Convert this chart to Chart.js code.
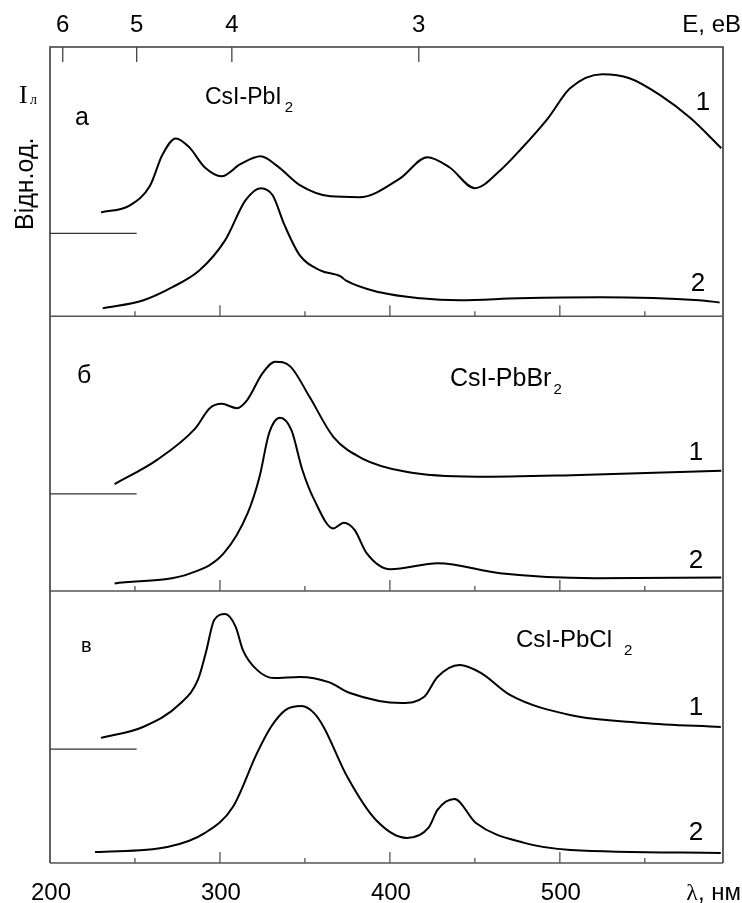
<!DOCTYPE html>
<html>
<head>
<meta charset="utf-8">
<script src="https://cdn.jsdelivr.net/npm/chart.js@4.4.1/dist/chart.umd.min.js"></script>
<style>
  html, body { margin: 0; padding: 0; background: #fff; }
</style>
</head>
<body>
<canvas id="spectra" width="742" height="903"></canvas>
<script>
// wavelength, nm  /  intensity, rel. units (0..100 within a panel)

// а: CsI-PbI2
const lamA1 = [230, 247, 259, 266, 274, 282, 291, 301, 312, 324, 334, 347, 365, 382, 406, 422, 435, 450, 465, 477, 493, 506, 525, 541, 559, 577, 595];
const intA1 = [38.2, 40.8, 48.2, 59.2, 65.4, 62.1, 54.8, 51.5, 55.9, 58.8, 55.1, 48.2, 44.1, 43.8, 50.7, 58.5, 54.8, 47.1, 53.7, 61.4, 72.8, 83.8, 89.0, 87.5, 81.3, 72.8, 61.8];
const lamA2 = [231, 255, 272, 288, 303, 315, 324, 331, 338, 347, 359, 371, 374, 394, 418, 441, 476, 524, 582, 594];
const intA2 = [2.9, 5.9, 10.7, 16.9, 27.9, 42.6, 47.1, 44.5, 33.5, 22.4, 16.9, 14.7, 13.2, 8.8, 6.6, 5.9, 6.6, 7.0, 5.9, 5.1];

// б: CsI-PbBr2
const lamB1 = [238, 263, 285.5, 294, 301, 310, 316, 325, 332.5, 341.5, 352.7, 366.7, 383.5, 408.8, 450.8, 506.8, 595];
const intB1 = [39.3, 48.2, 59.8, 67.2, 68.8, 67.2, 70.2, 80.0, 84.3, 82.5, 71.4, 56.7, 48.8, 43.9, 42.0, 42.6, 44.2];
const lamB2 = [238, 282.6, 302.3, 316.3, 323.3, 328.9, 335.3, 342, 348.5, 355.5, 366.7, 372.9, 379.3, 386.3, 400.3, 428.3, 464.8, 520.8, 595];
const intB2 = [2.8, 6.5, 13.9, 28.6, 42.0, 58.0, 63.7, 59.2, 44.5, 33.5, 23.0, 25.1, 22.4, 13.9, 8.0, 10.2, 6.5, 4.7, 5.0];

// в: CsI-PbCl2
const lamC1 = [230, 254.7, 277, 287, 291.8, 296.6, 303, 309.2, 313.5, 321.8, 331.8, 347, 364, 376.5, 407, 420, 428, 441, 453.5, 470.6, 506, 549, 594.7];
const intC1 = [46.0, 50.0, 58.8, 67.3, 77.6, 89.3, 91.5, 86.9, 78.3, 71.0, 68.0, 68.4, 66.5, 62.5, 58.8, 61.0, 68.4, 72.8, 69.9, 61.8, 54.4, 51.5, 50.0];
const lamC2 = [226.5, 269, 291, 307.6, 321.8, 330, 338.7, 348, 355.4, 361, 375, 391.8, 410, 423, 428, 438, 450.6, 479, 506.5, 594.7];
const intC2 = [4.0, 5.9, 11.0, 20.6, 40.4, 50.0, 56.3, 57.7, 55.1, 50.0, 31.6, 15.8, 9.2, 13.2, 19.5, 23.5, 14.7, 7.4, 4.8, 3.7];

// zero level of curve 1 in each panel
const zeroLevels = [30.5, 35.7, 41.9];

// axis ticks
const lamTicks = [200, 300, 400, 500];
const lamMinor = [250, 300, 350, 400, 450, 500, 550];
const eTickLabels = ['6', '5', '4', '3'];
const eTickLam = [207.5, 251, 307, 417];

const panelBase = [201, 100, 0]; // bottom of panels а, б, в on the shared y scale

function curve(lam, val, base) {
    return {
        data: lam.map((x, i) => ({ x: x, y: val[i] + base })),
        borderColor: '#000',
        borderWidth: 2,
        pointRadius: 0,
        cubicInterpolationMode: 'monotone',
        fill: false
    };
}

function zeroMark(level, base) {
    return {
        data: [{ x: 200, y: level + base }, { x: 251, y: level + base }],
        borderColor: '#333',
        borderWidth: 1.2,
        pointRadius: 0,
        fill: false
    };
}

const datasets = [
    curve(lamA1, intA1, panelBase[0]),
    curve(lamA2, intA2, panelBase[0]),
    curve(lamB1, intB1, panelBase[1]),
    curve(lamB2, intB2, panelBase[1]),
    curve(lamC1, intC1, panelBase[2]),
    curve(lamC2, intC2, panelBase[2]),
    zeroMark(zeroLevels[0], panelBase[0]),
    zeroMark(zeroLevels[1], panelBase[1]),
    zeroMark(zeroLevels[2], panelBase[2])
];

function txt(ctx, s, x, y, font, align) {
    ctx.font = font;
    ctx.textAlign = align || 'left';
    ctx.textBaseline = 'alphabetic';
    ctx.fillText(s, x, y);
    return ctx.measureText(s).width;
}

// formula with a lowered index, e.g. CsI-PbI + 2
function formula(ctx, main, sub, x, y, size, gap) {
    const sans = '"Liberation Sans", Arial, sans-serif';
    const w = txt(ctx, main, x, y, size + 'px ' + sans);
    txt(ctx, sub, x + w + gap, y + 8, '15px ' + sans);
}

const framePlugin = {
    id: 'frame',
    afterDraw(chart) {
        const ctx = chart.ctx;
        const xs = chart.scales.x, ys = chart.scales.y;
        const L = xs.left, R = xs.right, T = ys.top;
        ctx.save();
        ctx.strokeStyle = '#3a3a3a';
        ctx.lineWidth = 1.6;

        // outer frame
        ctx.beginPath();
        ctx.moveTo(L, ys.bottom); ctx.lineTo(L, T); ctx.lineTo(R, T); ctx.lineTo(R, ys.bottom);
        ctx.stroke();

        // panel bottoms with wavelength ticks
        ctx.strokeStyle = '#555';
        panelBase.forEach(b => {
            const py = ys.getPixelForValue(b);
            ctx.lineWidth = 1.6;
            ctx.beginPath(); ctx.moveTo(L, py); ctx.lineTo(R, py); ctx.stroke();
            ctx.lineWidth = 1.3;
            lamMinor.forEach(v => {
                const px = xs.getPixelForValue(v);
                const len = v % 100 === 0 ? 11 : 5;
                ctx.beginPath(); ctx.moveTo(px, py); ctx.lineTo(px, py - len); ctx.stroke();
            });
        });

        // energy ticks on the top edge
        ctx.strokeStyle = '#444';
        ctx.lineWidth = 1.3;
        eTickLam.forEach(v => {
            const px = xs.getPixelForValue(v);
            ctx.beginPath(); ctx.moveTo(px, T); ctx.lineTo(px, T + 15); ctx.stroke();
        });

        ctx.fillStyle = '#000';
        const sans = '"Liberation Sans", Arial, sans-serif';
        const serif = '"Liberation Serif", "Times New Roman", serif';

        eTickLabels.forEach((s, i) => txt(ctx, s, xs.getPixelForValue(eTickLam[i]), 32, '24px ' + sans, 'center'));
        txt(ctx, 'E, eB', 741, 32, '24px ' + sans, 'right');

        lamTicks.forEach(v => txt(ctx, String(v), xs.getPixelForValue(v) + 1, 900, '24px ' + sans, 'center'));
        ctx.font = '24px ' + sans;
        const wUnit = ctx.measureText(', нм').width;
        txt(ctx, ', нм', 741, 900, '24px ' + sans, 'right');
        txt(ctx, 'λ', 741 - wUnit, 900, '24px ' + serif, 'right');

        // y axis caption
        ctx.save();
        ctx.translate(33, 230);
        ctx.rotate(-Math.PI / 2);
        txt(ctx, 'Відн.од.', 0, 0, '25px ' + sans, 'left');
        ctx.restore();
        txt(ctx, 'I', 19, 103, '26px ' + serif, 'left');
        txt(ctx, 'л', 30, 104, '14px ' + serif, 'left');

        // panel а
        txt(ctx, 'а', 75, 125, '25px ' + sans);
        formula(ctx, 'CsI-PbI', '2', 205, 104, 23, 3);
        txt(ctx, '1', 703, 110, '26px ' + sans, 'center');
        txt(ctx, '2', 698, 291, '26px ' + sans, 'center');

        // panel б
        txt(ctx, 'б', 77, 383, '25px ' + sans);
        formula(ctx, 'CsI-PbBr', '2', 450, 386, 25, 2);
        txt(ctx, '1', 696, 460, '26px ' + sans, 'center');
        txt(ctx, '2', 696, 568, '26px ' + sans, 'center');

        // panel в
        txt(ctx, 'в', 81, 652, '20px ' + sans);
        formula(ctx, 'CsI-PbCl', '2', 516, 647, 24, 12);
        txt(ctx, '1', 696, 715, '26px ' + sans, 'center');
        txt(ctx, '2', 696, 840, '26px ' + sans, 'center');

        ctx.restore();
    }
};

new Chart(document.getElementById('spectra'), {
    type: 'line',
    data: { datasets: datasets },
    options: {
        responsive: false,
        animation: false,
        devicePixelRatio: 1,
        layout: { padding: { left: 50, right: 19, top: 47, bottom: 40 } },
        scales: {
            x: { type: 'linear', min: 200, max: 596, display: false },
            y: { type: 'linear', min: 0, max: 300, display: false }
        },
        plugins: { legend: { display: false }, tooltip: { enabled: false } }
    },
    plugins: [framePlugin]
});
</script>
</body>
</html>
